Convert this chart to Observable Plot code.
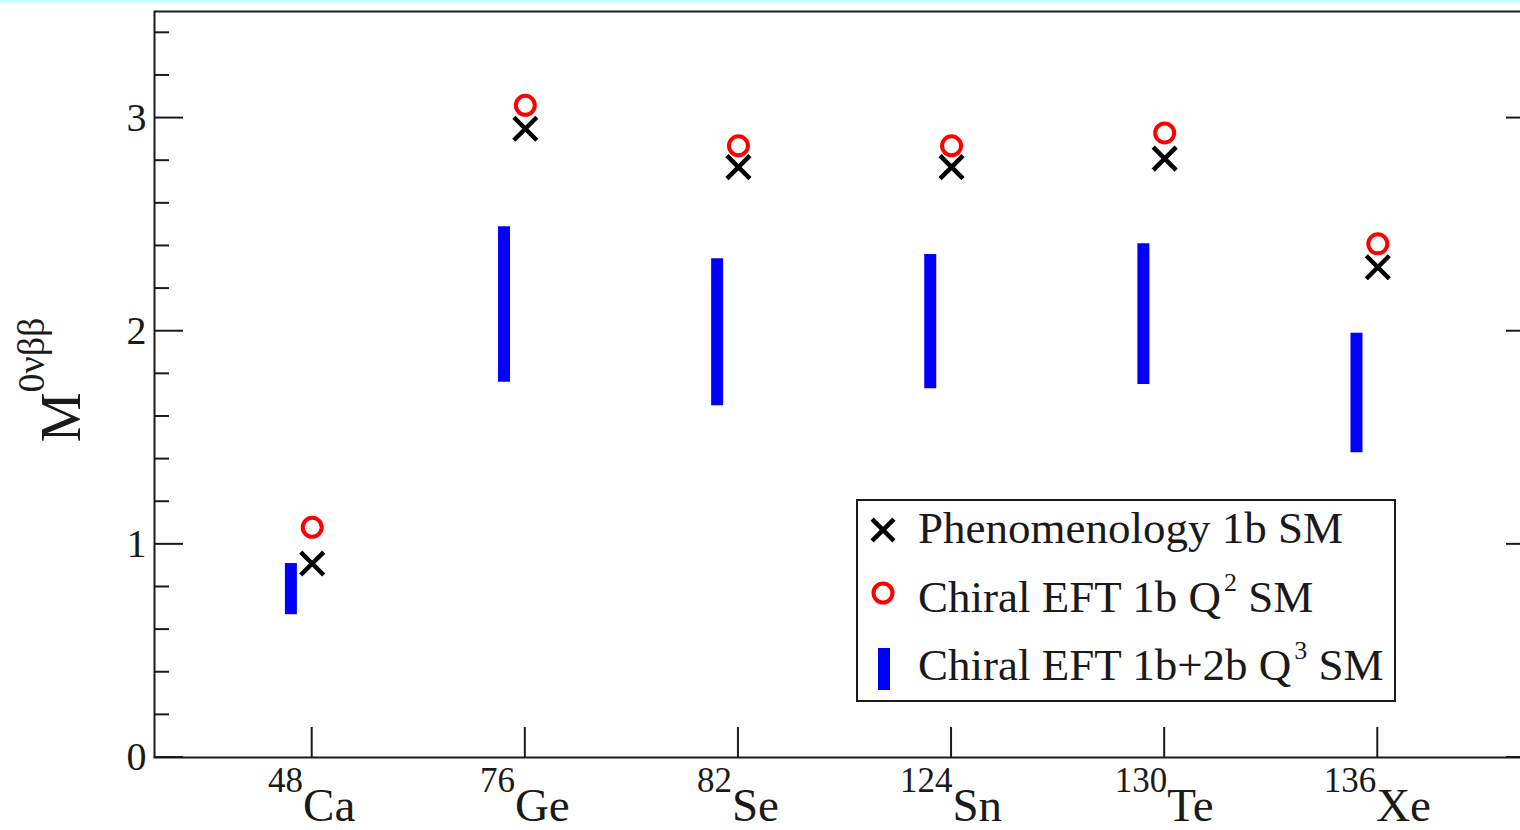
<!DOCTYPE html>
<html>
<head>
<meta charset="utf-8">
<script src="https://cdn.jsdelivr.net/npm/d3@7"></script>
<script src="https://cdn.jsdelivr.net/npm/@observablehq/plot@0.6"></script>
<style>
  html, body { margin: 0; padding: 0; background: #fff; overflow: hidden; }
  #chart { position: absolute; left: 0; top: 0; }
  #chart svg { max-width: none !important; }
  #strip { position: absolute; left: 0; top: 0; width: 1520px; height: 3px; background: #c9fdff; }
</style>
</head>
<body>
<div id="chart"></div>
<div id="strip"></div>
<script>
// Nuclei, in plotting order
const elements    = ["Ca", "Ge", "Se", "Sn", "Te", "Xe"];
const massNumbers = [48, 76, 82, 124, 130, 136];

// Nuclear matrix elements M^{0νββ}
const phenomenology1b = [0.91, 2.95, 2.77, 2.77, 2.81, 2.30];
const chiralEFT1bQ2   = [1.08, 3.06, 2.87, 2.87, 2.93, 2.41];
const chiralEFT2bLow  = [0.67, 1.76, 1.65, 1.73, 1.75, 1.43];
const chiralEFT2bHigh = [0.91, 2.49, 2.34, 2.36, 2.41, 1.99];

// Axis ticks
const yMajor = [0, 1, 2, 3];
const yMinor = d3.range(0, 3.5001, 0.2).map(v => +v.toFixed(1)).filter(v => !yMajor.includes(v));

const rows = elements.map((el, i) => ({
  pos: i + 1,
  element: el,
  mass: massNumbers[i],
  pheno: phenomenology1b[i],
  q2: chiralEFT1bQ2[i],
  lo: chiralEFT2bLow[i],
  hi: chiralEFT2bHigh[i]
}));

const ink = "#1a1a1a";
const serif = "'Liberation Serif', 'Times New Roman', serif";
const barShift = -0.1;     // Q^3 bands sit just left of each nucleus
const majorLen = 29, minorLen = 15;

// Frame ticks: mirrored y ticks on both sides, upward x ticks at each nucleus
function frameTicks(index, {x, y}, values, dims) {
  const g = d3.create("svg:g").attr("stroke", ink).attr("stroke-width", 2).attr("fill", "none");
  const xl = dims.marginLeft, xr = dims.width - dims.marginRight, yb = dims.height - dims.marginBottom;
  const line = (x1, y1, x2, y2) => g.append("line").attr("x1", x1).attr("y1", y1).attr("x2", x2).attr("y2", y2);
  for (const v of yMajor) { line(xl, y(v), xl + majorLen, y(v)); line(xr, y(v), xr - majorLen, y(v)); }
  for (const v of yMinor) { line(xl, y(v), xl + minorLen, y(v)); line(xr, y(v), xr - minorLen, y(v)); }
  for (const r of rows) line(x(r.pos), yb, x(r.pos), yb - 30);
  return g.node();
}

// Isotope labels with superscript mass numbers
function isotopeLabels(index, {x}, values, dims) {
  const g = d3.create("svg:g").attr("font-family", serif).attr("fill", ink);
  const yb = dims.height - dims.marginBottom;
  for (const r of rows) {
    const t = g.append("text").attr("x", x(r.pos)).attr("y", yb + 64).attr("text-anchor", "middle");
    t.append("tspan").attr("font-size", 35).attr("dy", -29).text(r.mass);
    t.append("tspan").attr("font-size", 47).attr("dy", 29).text(r.element);
  }
  return g.node();
}

// Rotated y label M^{0νββ}
function yLabel(index, scales, values, dims) {
  const t = d3.create("svg:text")
    .attr("transform", `translate(80,${(dims.marginTop + dims.height - dims.marginBottom) / 2 - 4})rotate(-90)`)
    .attr("text-anchor", "middle").attr("font-family", serif).attr("fill", ink);
  t.append("tspan").attr("font-size", 56).text("M");
  t.append("tspan").attr("font-size", 38).attr("dy", -36).text("0νββ");
  return t.node();
}

// Legend box
function legend() {
  const g = d3.create("svg:g").attr("font-family", serif).attr("fill", ink).attr("text-anchor", "start");
  const bx = 857, by = 500, bw = 538, bh = 201;
  g.append("rect").attr("x", bx).attr("y", by).attr("width", bw).attr("height", bh)
    .attr("fill", "#fff").attr("stroke", ink).attr("stroke-width", 2);
  const sx = bx + 26;
  // cross
  g.append("path").attr("d", d3.symbol(d3.symbolTimes, 10 * 10 * Math.PI)())
    .attr("transform", `translate(${sx},${by + 30})`).attr("fill", "none").attr("stroke", "#000").attr("stroke-width", 4.5);
  // circle
  g.append("circle").attr("cx", sx).attr("cy", by + 93).attr("r", 9.5)
    .attr("fill", "none").attr("stroke", "#f00").attr("stroke-width", 4);
  // band
  g.append("line").attr("x1", sx + 1).attr("x2", sx + 1).attr("y1", by + 148).attr("y2", by + 190)
    .attr("stroke", "#0000ff").attr("stroke-width", 12);
  const tx = bx + 61;
  const lines = [
    [["Phenomenology 1b SM"]],
    [["Chiral EFT 1b Q"], ["2", true], [" SM"]],
    [["Chiral EFT 1b+2b Q"], ["3", true], [" SM"]]
  ];
  const baselines = [by + 43, by + 112, by + 180];
  lines.forEach((parts, i) => {
    const t = g.append("text").attr("x", tx).attr("y", baselines[i]).attr("font-size", 45).attr("xml:space", "preserve");
    let up = false;
    for (const [s, sup] of parts) {
      const ts = t.append("tspan").text(s);
      if (sup && !up) { ts.attr("font-size", 26).attr("dy", -21).attr("dx", 3); up = true; }
      else if (!sup && up) { ts.attr("dy", 21); up = false; }
    }
  });
  return g.node();
}

const chart = Plot.plot({
  width: 1535,
  height: 830,
  marginLeft: 154,
  marginRight: 0,
  marginTop: 11,
  marginBottom: 73,
  style: { background: "transparent", color: ink, overflow: "visible", maxWidth: "none" },
  x: { domain: [0.26, 6.74], axis: null },
  y: { domain: [0, 3.5] },
  marks: [
    Plot.ruleX(rows, { x: d => d.pos + barShift, y1: "lo", y2: "hi", stroke: "#0000ff", strokeWidth: 12 }),
    Plot.dot(rows, { x: "pos", y: "q2", r: 9.5, stroke: "#ff0000", strokeWidth: 4, fill: "none" }),
    Plot.dot(rows, { x: "pos", y: "pheno", symbol: "times", r: 10.5, stroke: "#000", strokeWidth: 4.5 }),
    Plot.axisY(yMajor, { tickSize: 0, tickPadding: 8, tickFormat: d3.format("d"), label: null,
                         fontSize: 40, fontFamily: serif, fontVariant: "normal" }),
    frameTicks,
    isotopeLabels,
    yLabel,
    legend,
    Plot.frame({ stroke: ink, strokeWidth: 2 })
  ]
});

document.getElementById("chart").appendChild(chart);
</script>
</body>
</html>
